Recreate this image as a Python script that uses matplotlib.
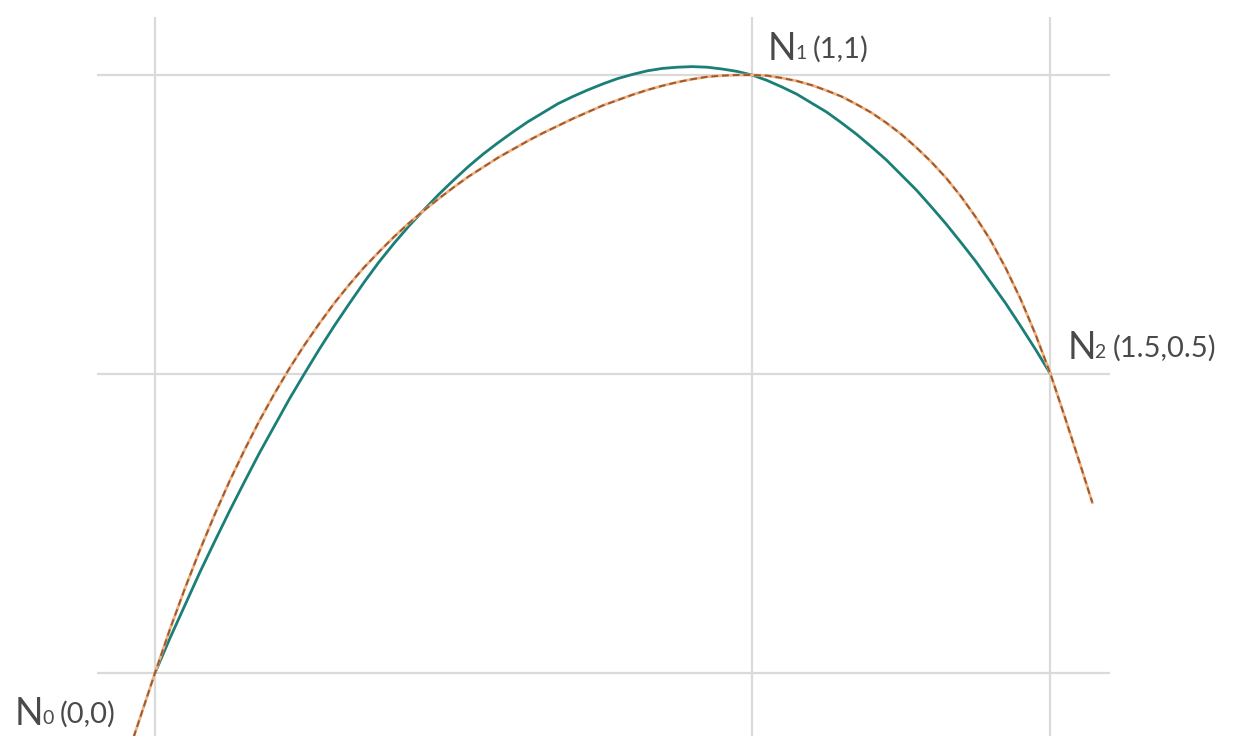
import matplotlib
matplotlib.use("Agg")
import matplotlib.pyplot as plt
from matplotlib import font_manager

# ---------------- data ----------------
# interpolating curve (teal, solid)
teal_x = [0.000, 0.025, 0.050, 0.075, 0.100, 0.125, 0.150, 0.175, 0.200, 0.225,
          0.250, 0.275, 0.300, 0.325, 0.350, 0.375, 0.400, 0.425, 0.450, 0.475,
          0.500, 0.525, 0.550, 0.575, 0.600, 0.625, 0.650, 0.675, 0.700, 0.725,
          0.750, 0.775, 0.800, 0.825, 0.850, 0.875, 0.900, 0.925, 0.950, 0.975,
          1.000, 1.025, 1.050, 1.075, 1.100, 1.125, 1.150, 1.175, 1.200, 1.225,
          1.250, 1.275, 1.300, 1.325, 1.350, 1.375, 1.400, 1.425, 1.450, 1.475,
          1.500]
teal_y = [0.000, 0.058, 0.113, 0.168, 0.220, 0.271, 0.320, 0.368, 0.413, 0.458,
          0.500, 0.541, 0.580, 0.617, 0.653, 0.687, 0.718, 0.747, 0.774, 0.800,
          0.824, 0.847, 0.868, 0.887, 0.905, 0.922, 0.937, 0.952, 0.964, 0.975,
          0.985, 0.994, 1.001, 1.007, 1.011, 1.013, 1.014, 1.013, 1.010, 1.006,
          1.000, 0.991, 0.980, 0.968, 0.953, 0.938, 0.920, 0.901, 0.880, 0.858,
          0.833, 0.808, 0.780, 0.751, 0.720, 0.688, 0.653, 0.618, 0.580, 0.541,
          0.500]

# comparison curve (orange, dashed)
orange_x = [-0.036, 0.000, 0.025, 0.050, 0.075, 0.100, 0.125, 0.150, 0.175, 0.200,
            0.225, 0.250, 0.275, 0.300, 0.325, 0.350, 0.375, 0.400, 0.425, 0.450,
            0.475, 0.500, 0.525, 0.550, 0.575, 0.600, 0.625, 0.650, 0.675, 0.700,
            0.725, 0.750, 0.775, 0.800, 0.825, 0.850, 0.875, 0.900, 0.925, 0.950,
            0.975, 1.000, 1.025, 1.050, 1.075, 1.100, 1.125, 1.150, 1.175, 1.200,
            1.225, 1.250, 1.275, 1.300, 1.325, 1.350, 1.375, 1.400, 1.425, 1.450,
            1.475, 1.500, 1.525, 1.550, 1.570]
orange_y = [-0.108, 0.000, 0.073, 0.141, 0.205, 0.265, 0.321, 0.373, 0.422, 0.467,
            0.509, 0.548, 0.584, 0.618, 0.649, 0.678, 0.704, 0.729, 0.752, 0.773,
            0.793, 0.812, 0.830, 0.846, 0.862, 0.876, 0.890, 0.903, 0.915, 0.927,
            0.938, 0.949, 0.958, 0.967, 0.975, 0.982, 0.988, 0.993, 0.997, 0.999,
            1.000, 1.000, 0.999, 0.995, 0.990, 0.983, 0.974, 0.964, 0.951, 0.937,
            0.920, 0.901, 0.879, 0.855, 0.828, 0.797, 0.762, 0.723, 0.677, 0.625,
            0.566, 0.500, 0.425, 0.348, 0.285]

# nodes
node_x = [0.0, 1.0, 1.5]
node_y = [0.0, 1.0, 0.5]
node_names = ["N", "N", "N"]
node_subs = ["0", "1", "2"]
node_coords = ["(0,0)", "(1,1)", "(1.5,0.5)"]

# grid positions
grid_x = [0.0, 1.0, 1.5]
grid_y = [0.0, 0.5, 1.0]

# ---------------- style ----------------
avail = {f.name for f in font_manager.fontManager.ttflist}
fam = ["Lato", "DejaVu Sans"] if "Lato" in avail else ["DejaVu Sans"]
plt.rcParams["font.family"] = fam

W, H = 1233, 736
fig = plt.figure(figsize=(W / 100, H / 100), dpi=100)
ax = fig.add_axes([0, 0, 1, 1])
ax.set_xlim(-0.2596, 1.8057)
ax.set_ylim(-0.1054, 1.1254)
ax.axis("off")

grid_col = "#dadada"
for gy in grid_y:
    ax.plot([-0.097, 1.60], [gy, gy], color=grid_col, lw=1.6, zorder=1,
            solid_capstyle="butt")
for gx in grid_x:
    ax.plot([gx, gx], [-0.2, 1.097], color=grid_col, lw=1.6, zorder=1,
            solid_capstyle="butt")

ax.plot(teal_x, teal_y, color="#1a7f77", lw=2.0, zorder=3,
        solid_joinstyle="round", solid_capstyle="round")

ax.plot(orange_x, orange_y, color="#f2b27e", lw=2.0, zorder=4,
        solid_joinstyle="round")
ln, = ax.plot(orange_x, orange_y, color="#9a5a36", lw=1.4, zorder=5)
ln.set_dashes((3.5, 2.0))

txt_col = "#4a4a4a"
offsets = [(-140, -52), (16, 15), (17, 15)]
for xv, yv, nm, sb, cd, (dx, dy) in zip(node_x, node_y, node_names,
                                        node_subs, node_coords, offsets):
    ax.annotate(nm, (xv, yv), xytext=(dx, dy), textcoords="offset pixels",
                fontsize=27, color=txt_col, ha="left", va="baseline")
    ax.annotate(sb, (xv, yv), xytext=(dx + 27, dy + 1), textcoords="offset pixels",
                fontsize=14, color=txt_col, ha="left", va="baseline")
    ax.annotate(cd, (xv, yv), xytext=(dx + 45, dy + 2), textcoords="offset pixels",
                fontsize=21, color=txt_col, ha="left", va="baseline")

fig.savefig("out.png", dpi=100, facecolor="white")
